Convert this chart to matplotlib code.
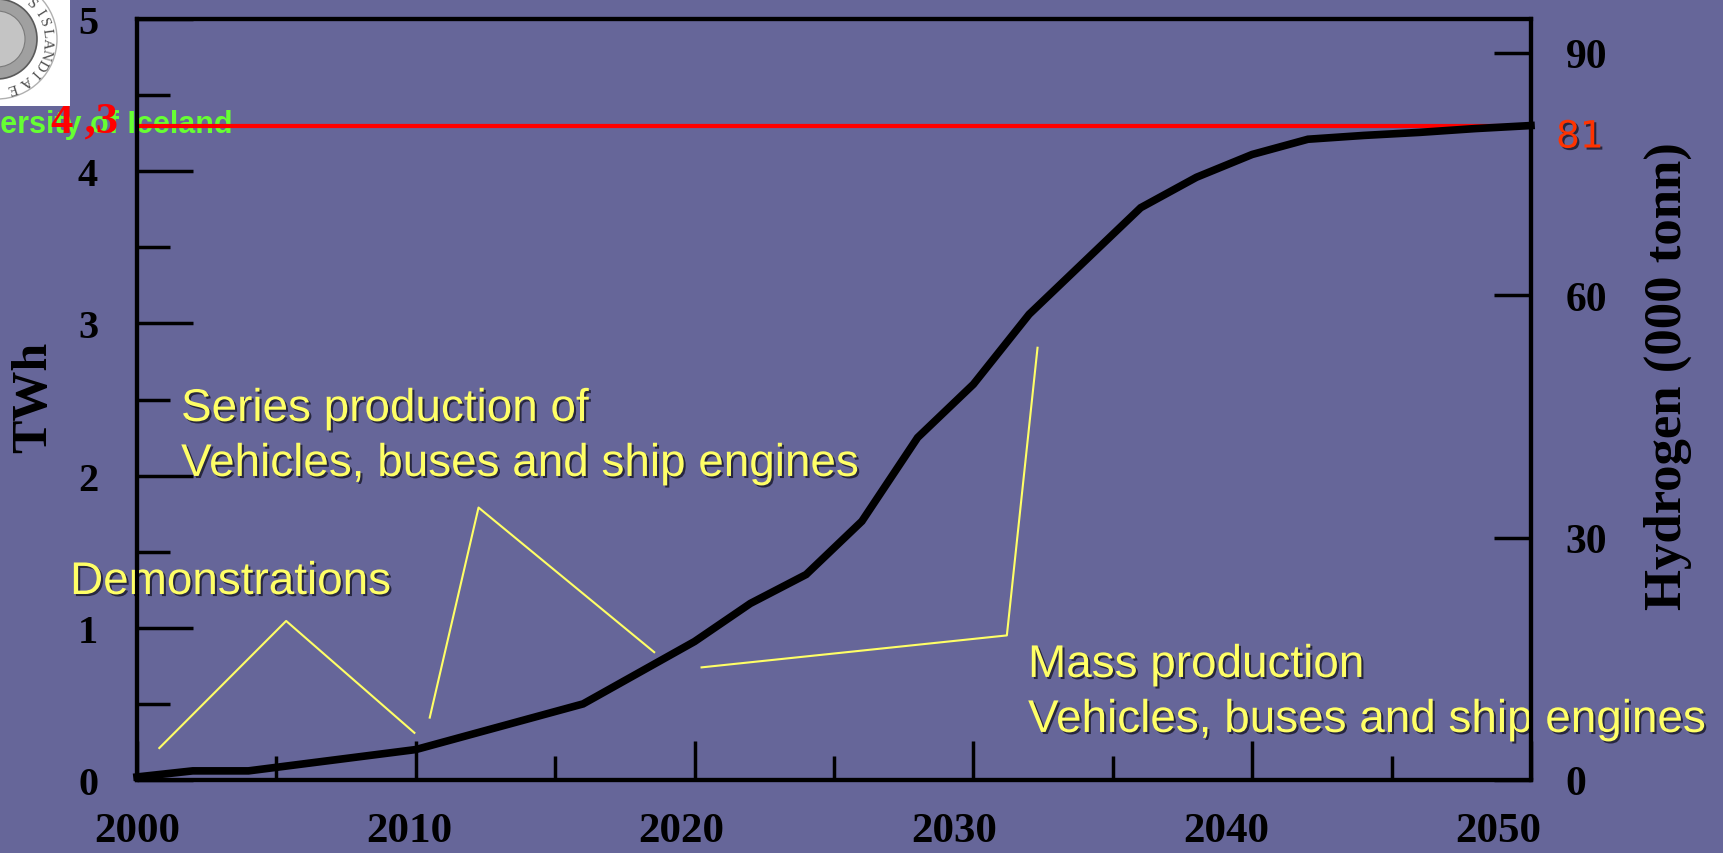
import matplotlib
matplotlib.use("Agg")
import matplotlib.pyplot as plt
import matplotlib.patheffects as pe
from matplotlib.ticker import MultipleLocator
import numpy as np

# hydrogen demand scenario, TWh per year
years = [2000, 2002, 2004, 2010, 2016, 2020, 2022, 2024, 2026, 2028, 2030,
         2032, 2034, 2036, 2038, 2040, 2042, 2044, 2046, 2048, 2050]
twh = [0.02, 0.06, 0.06, 0.20, 0.50, 0.91, 1.16, 1.35, 1.70, 2.25, 2.60,
       3.06, 3.41, 3.76, 3.96, 4.11, 4.21, 4.235, 4.255, 4.28, 4.30]

target_twh = 4.3
target_h2 = 81  # thousand tonnes of hydrogen at 4.3 TWh

# pointer lines (year, TWh) from each phase label down to the curve
demo_x = [2000.8, 2005.35, 2009.95]
demo_y = [0.21, 1.045, 0.31]
series_x = [2010.5, 2012.25, 2018.55]
series_y = [0.41, 1.79, 0.84]
mass_x = [2020.25, 2031.2, 2032.3]
mass_y = [0.74, 0.95, 2.84]

bg = "#666699"
yellow = "#ffff66"

plt.rcParams["font.family"] = ["Liberation Serif", "DejaVu Serif"]
plt.rcParams["font.weight"] = "bold"
plt.rcParams["axes.labelweight"] = "bold"

fig = plt.figure(figsize=(17.24, 8.54), dpi=100, facecolor=bg)
ax = fig.add_axes([137 / 1724, 73 / 854, 1394 / 1724, 761 / 854])
ax.set_facecolor("none")
ax.set_xlim(2000, 2050)
ax.set_ylim(0, 5)

for s in ax.spines.values():
    s.set_linewidth(3)

ax.xaxis.set_major_locator(MultipleLocator(10))
ax.xaxis.set_minor_locator(MultipleLocator(5))
ax.yaxis.set_major_locator(MultipleLocator(1))
ax.yaxis.set_minor_locator(MultipleLocator(0.5))
ax.tick_params(axis="x", which="major", direction="in", length=28, width=2.5,
               labelbottom=False)
ax.tick_params(axis="x", which="minor", direction="in", length=17, width=2.5)
ax.tick_params(axis="y", which="major", direction="in", length=40, width=2.5,
               labelsize=29, pad=28)
ax.tick_params(axis="y", which="minor", direction="in", length=24, width=2.5)

# year labels sit on a slightly compressed secondary scale
k = 0.9765
secax = ax.secondary_xaxis("bottom",
                           functions=(lambda x: 2000 + (x - 2000) / k,
                                      lambda v: 2000 + (v - 2000) * k))
secax.set_xticks(range(2000, 2051, 10))
secax.tick_params(length=0, labelsize=31, pad=23)
secax.spines["bottom"].set_visible(False)

ax.set_ylabel("TWh", fontsize=36, weight="bold")
ax.yaxis.label.set_va("center")
ax.yaxis.set_label_coords(-(137 - 34) / 1394, (781 - 397) / 761)

ax2 = ax.twinx()
ax2.set_ylim(0, 5 * target_h2 / target_twh)
ax2.set_yticks([0, 30, 60, 90])
ax2.tick_params(axis="y", direction="in", length=27, width=2.5,
                labelsize=30, pad=25)
for s in ax2.spines.values():
    s.set_linewidth(3)
ax2.set_ylabel("Hydrogen (000 tonn)", fontsize=38, rotation=90, weight="bold")
ax2.yaxis.label.set_va("center")
ax2.yaxis.label.set_ha("center")
ax2.yaxis.set_label_coords((1668 - 137) / 1394, (781 - 376) / 761)

# target level and demand curve
ax.axhline(target_twh, color="#ff0000", lw=3, zorder=3)
ax.plot(years, twh, color="black", lw=5.5, solid_joinstyle="miter",
        clip_on=False, zorder=4)

ax.annotate("4 ,3", xy=(0, target_twh), xycoords=ax.get_yaxis_transform(),
            xytext=(-19, -6), textcoords="offset pixels", ha="right",
            va="baseline", color="#ff0000", fontsize=32, weight="bold",
            annotation_clip=False, zorder=6)

shadow = [pe.SimplePatchShadow(offset=(1.5, -1.5), shadow_rgbFace="#1c1c30",
                               alpha=0.85), pe.Normal()]
ax2.annotate("81", xy=(1, target_h2), xycoords=ax2.get_yaxis_transform(),
             xytext=(25, -12), textcoords="offset pixels", ha="left",
             va="center", color="#ff3300", fontsize=27,
             family="DejaVu Sans", weight="normal", path_effects=shadow,
             annotation_clip=False)

# phase pointers
for px, py in [(demo_x, demo_y), (series_x, series_y), (mass_x, mass_y)]:
    ax.plot(px, py, color=yellow, lw=1.5, zorder=2)

sans = dict(family=["Liberation Sans", "DejaVu Sans"], weight="normal",
            fontsize=33, color=yellow, path_effects=shadow, va="baseline",
            ha="left", annotation_clip=False, zorder=5)


def phase_text(x, y, lines):
    for i, line in enumerate(lines):
        ax.annotate(line, xy=(x, y), xytext=(0, -55 * i),
                    textcoords="offset pixels", **sans)


phase_text(1997.6, 1.222, ["Demonstrations"])
phase_text(2001.58, 2.359, ["Series production of",
                            "Vehicles, buses and ship engines"])
phase_text(2031.96, 0.677, ["Mass production",
                            "Vehicles, buses and ship engines"])

# university name and seal in the corner
fig.text(233 / 1724, 1 - 133 / 854, "University of Iceland", ha="right",
         va="baseline", fontsize=22, weight="bold",
         family=["Liberation Sans", "DejaVu Sans"], color="#66ff33", zorder=-1)

logo = fig.add_axes([0, 1 - 107 / 854, 70 / 1724, 107 / 854])
logo.set_xlim(0, 70)
logo.set_ylim(107, 0)
logo.set_facecolor("white")
logo.set_xticks([])
logo.set_yticks([])
for s in logo.spines.values():
    s.set_visible(False)
cx, cy = -3, 40
logo.add_patch(plt.Circle((cx, cy), 60, fc="none", ec="#b0b0b0", lw=1))
logo.add_patch(plt.Circle((cx, cy), 40, fc="#a0a0a0", ec="#5a5a5a", lw=1.2))
logo.add_patch(plt.Circle((cx, cy), 28, fc="#c4c4c4", ec="#7a7a7a", lw=0.8))
for ch, a in zip("SISLANDIAE", [46, 32, 20, 8, -4, -16, -29, -42, -55, -72]):
    r = np.deg2rad(a)
    logo.text(cx + 50 * np.cos(r), cy - 50 * np.sin(r), ch, rotation=a - 90,
              ha="center", va="center", fontsize=11, color="#505050",
              weight="normal", clip_on=True)

fig.savefig("out.png", dpi=100, facecolor=bg)
